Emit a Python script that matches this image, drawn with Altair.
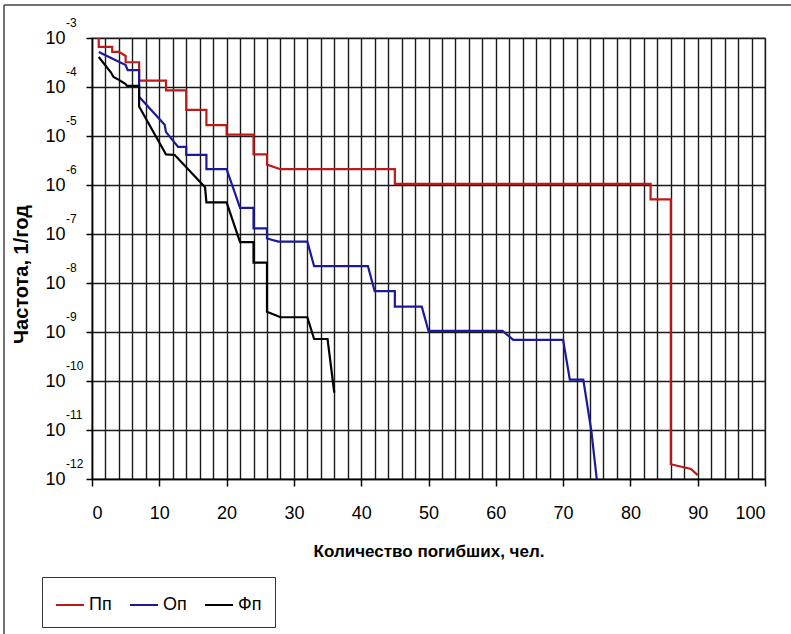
import altair as alt
import pandas as pd

# ---- data ----
series_names = ["Пп", "Оп", "Фп"]
series_colors = ["#BE1A1A", "#1A1A9A", "#000000"]

pp_x = [1, 1, 3, 3, 4, 5, 5, 7, 7, 11, 11, 14, 14, 17, 17, 20, 20, 24, 24, 26, 26, 28, 45, 45, 83, 83, 86, 86, 89, 90]
pp_y = [1.0e-3, 6.6e-4, 6.6e-4, 5.2e-4, 5.2e-4, 4.3e-4, 3.2e-4, 3.2e-4, 1.35e-4, 1.35e-4, 8.5e-5, 8.5e-5,
        3.4e-5, 3.4e-5, 1.66e-5, 1.66e-5, 1.07e-5, 1.07e-5, 4.2e-6, 4.2e-6, 2.6e-6, 2.1e-6, 2.1e-6,
        1.05e-6, 1.05e-6, 5.1e-7, 5.1e-7, 2.0e-12, 1.6e-12, 1.2e-12]

op_x = [1, 3, 5, 5.3, 7, 7, 10.8, 11, 12.8, 14, 14, 17, 17, 20, 22, 24, 24, 26, 26, 27.7, 32, 33, 41, 42,
        45, 45, 49, 50, 61, 62.6, 70, 71, 73, 74.2, 75]
op_y = [5.2e-4, 3.8e-4, 2.8e-4, 2.2e-4, 2.2e-4, 6.3e-5, 1.7e-5, 1.2e-5, 6.0e-6, 6.0e-6, 4.1e-6, 4.1e-6,
        2.1e-6, 2.1e-6, 3.4e-7, 3.4e-7, 1.3e-7, 1.3e-7, 8.1e-8, 7.0e-8, 7.0e-8, 2.2e-8, 2.2e-8, 6.8e-9,
        6.8e-9, 3.3e-9, 3.3e-9, 1.05e-9, 1.05e-9, 6.9e-10, 6.9e-10, 1.07e-10, 1.07e-10, 9.5e-12, 1.0e-12]

fp_x = [1, 2.8, 3.2, 4, 5, 5.2, 7, 7, 11, 12.3, 16.8, 17, 20, 22, 24, 24, 26, 26, 28, 32, 33, 35, 36]
fp_y = [4.1e-4, 2.0e-4, 1.6e-4, 1.4e-4, 1.15e-4, 1.05e-4, 1.05e-4, 4.0e-5, 4.2e-6, 4.1e-6, 9.0e-7,
        4.4e-7, 4.4e-7, 6.8e-8, 6.8e-8, 2.6e-8, 2.6e-8, 2.6e-9, 2.0e-9, 2.0e-9, 7.2e-10, 7.2e-10, 5.8e-11]

y_exponents = [-12, -11, -10, -9, -8, -7, -6, -5, -4, -3]
x_grid_values = list(range(0, 101, 2))

x_title = "Количество погибших, чел."
y_title = "Частота, 1/год"

# ---- build tables ----
rows = []
for name, xs, ys in [("Пп", pp_x, pp_y), ("Оп", op_x, op_y), ("Фп", fp_x, fp_y)]:
    for i, (xv, yv) in enumerate(zip(xs, ys)):
        rows.append({"series": name, "x": xv, "y": yv, "i": i})
df = pd.DataFrame(rows)

exp_df = pd.DataFrame({"y": [10.0 ** e for e in y_exponents], "t": [str(e) for e in y_exponents]})

FONT = "Liberation Sans, Arial, sans-serif"

x_scale = alt.Scale(domain=[0, 100], nice=False, zero=False)
y_scale = alt.Scale(type="log", domain=[1e-12, 1e-3], nice=False)

y_axis = alt.Axis(values=[10.0 ** e for e in y_exponents], labelExpr="'10'",
                  tickSize=6, labelPadding=21, titlePadding=13, titleY=236,
                  titleFontSize=20, titleFontWeight="bold")

lines = alt.Chart(df).mark_line(strokeWidth=2.2, clip=True).encode(
    x=alt.X("x:Q", scale=x_scale, title=x_title,
            axis=alt.Axis(values=x_grid_values,
                          labelExpr="datum.value % 10 === 0 ? datum.label : ''",
                          tickOpacity={"condition": {"test": "datum.value % 10 === 0", "value": 1}, "value": 0},
                          tickSize=7, labelPadding=18, titlePadding=21,
                          titleFontSize=17, titleFontWeight="bold")),
    y=alt.Y("y:Q", scale=y_scale, title=y_title, axis=y_axis),
    color=alt.Color("series:N", scale=alt.Scale(domain=series_names, range=series_colors),
                    legend=alt.Legend(title=None, orient="none", legendX=-50, legendY=539,
                                      direction="horizontal", symbolType="stroke",
                                      symbolStrokeWidth=2, symbolSize=784,
                                      labelFont=FONT, labelFontSize=18, labelColor="black",
                                      columnPadding=14, labelOffset=4,
                                      strokeColor="#333", padding=13, fillColor="white")),
    order="i:Q",
)

exps = alt.Chart(exp_df).mark_text(align="left", baseline="middle", dy=-15, fontSize=12,
                                     font=FONT, color="black").encode(
    x=alt.value(-26),
    y=alt.Y("y:Q", scale=y_scale, title=y_title, axis=y_axis),
    text="t:N",
)

frame_data = alt.Data(values=[{}])
frame_left = alt.Chart(frame_data).mark_rule(color="#444", strokeWidth=1.5).encode(
    x=alt.value(-88), y=alt.value(-33), y2=alt.value(600))
frame_top = alt.Chart(frame_data).mark_rule(color="#444", strokeWidth=1.5).encode(
    x=alt.value(-88), x2=alt.value(700), y=alt.value(-33))

chart = alt.layer(lines, exps, frame_left, frame_top).properties(
    width=673, height=441,
    autosize=alt.AutoSizeParams(type="none"),
    padding={"left": 92, "top": 38, "right": 26, "bottom": 155},
    background="white",
).configure_view(
    stroke="#999", strokeWidth=1.5
).configure_axis(
    labelFont=FONT, labelFontSize=18, labelColor="black",
    titleFont=FONT, titleColor="black",
    domainColor="black", domainWidth=1.5,
    tickColor="black", tickWidth=1.5,
    grid=True, gridColor="#1a1a1a", gridWidth=1.4, gridOpacity=1,
)

chart.save("out.html", embed_options={"renderer": "svg", "actions": False})
